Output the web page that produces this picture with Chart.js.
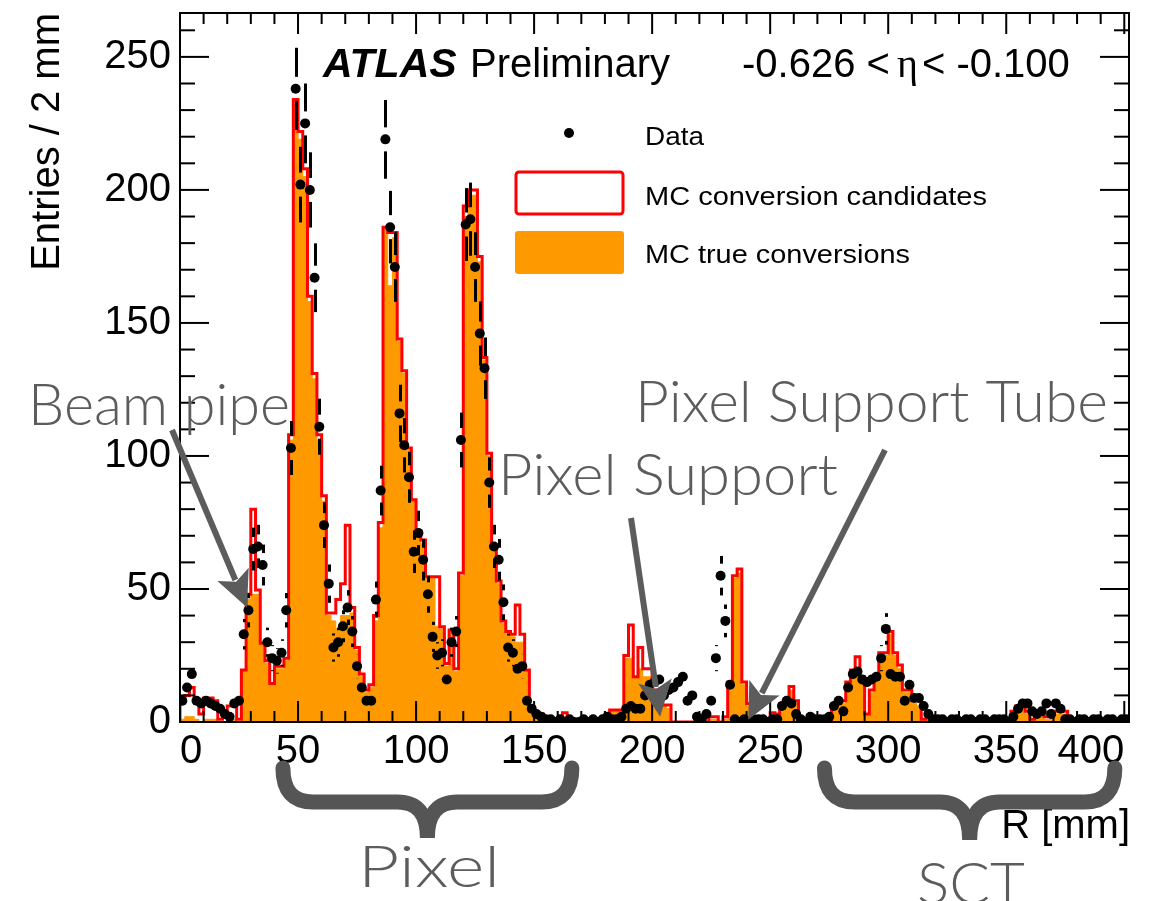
<!DOCTYPE html>
<html>
<head>
<meta charset="utf-8">
<script src="https://cdn.jsdelivr.net/npm/chart.js@4.4.1/dist/chart.umd.min.js"></script>
<style>
  html, body { margin: 0; padding: 0; background: #fff; }
</style>
</head>
<body>
<canvas id="graph" width="1171" height="901"></canvas>
<script>
'use strict';

// 2 mm bins from R = 0 to 402 mm
let binWidth = 2;
let rMax = 402;
let yMax = 266.5;
let xTickValues = [0, 50, 100, 150, 200, 250, 300, 350, 400];
let yTickValues = [0, 50, 100, 150, 200, 250];

// MC conversion candidates (red outline), one value per bin
let candidates = [
  9, 10, 13, 8, 3, 9, 9, 8, 1, 4,
  6, 6, 1, 19.5, 48, 80, 49.6, 29.6, 23, 14.5,
  21, 21, 24, 108, 234, 222, 208, 160, 131, 108,
  85, 41, 41, 46, 52, 74, 43, 28, 18, 12,
  14, 40, 75, 186, 184, 184, 144, 132, 103, 83.5,
  72, 68.4, 54.6, 54.6, 54.6, 35.8, 22, 34.6, 20, 56,
  194, 200, 200, 175, 137, 101, 66, 53, 38, 34,
  33, 44, 33, 19.5, 5.7, 3.6, 3, 0, 0, 0,
  0, 3.5, 0, 0, 0, 0, 0, 0, 0, 0,
  0, 4.5, 4.5, 4.5, 25, 36.5, 17, 28, 20, 20,
  12, 12, 6.4, 6.4, 0, 0, 0, 0, 0, 0,
  0, 0, 2, 2, 0, 2, 15, 55, 57.5, 15,
  7, 0, 0, 0, 0, 3.5, 3, 7, 7, 13.3,
  8, 0, 0, 0, 0, 0, 0, 0, 5.8, 8,
  8, 15, 19.5, 24.5, 17, 3, 12, 17, 26, 26,
  34, 26, 21.4, 12, 12, 8, 8, 1, 3.5, 0,
  0, 0, 0, 0, 0, 0, 0, 0, 0, 0,
  0, 0, 0, 0, 0, 0, 4, 6, 6, 4,
  1, 3, 3, 2, 2, 4, 4, 4, 0, 0,
  0, 0, 0, 0, 0, 0, 0, 0, 0, 0,
  0
];

// MC true conversions (orange fill)
let trueConversions = [
  1, 2, 2, 1, 0, 1, 1, 1, 0, 0,
  1, 1, 0, 19, 46, 48, 48, 29, 22, 14,
  20, 20, 23, 106, 232, 219, 205, 158, 129, 106,
  83, 40, 38, 35, 40, 40, 41, 27, 17, 11,
  13, 38, 73, 185, 164, 182, 143, 131, 102, 83,
  71, 67, 54, 54, 36, 35, 21, 34, 19, 55,
  190, 198, 198, 173, 136, 100, 65, 52, 37, 33,
  32, 30, 30, 19, 5, 3, 2, 0, 0, 0,
  0, 2, 0, 0, 0, 0, 0, 0, 0, 0,
  0, 4, 4, 4, 24, 24, 17, 20, 17, 17,
  11, 10, 6, 5, 0, 0, 0, 0, 0, 0,
  0, 0, 1, 1, 0, 1, 14, 54, 56, 14,
  6, 0, 0, 0, 0, 2, 2, 6, 6, 12,
  7, 0, 0, 0, 0, 0, 0, 0, 5, 7,
  7, 14, 18, 18, 16, 3, 11, 16, 25, 25,
  33, 25, 20, 11, 11, 7, 6, 1, 2, 0,
  0, 0, 0, 0, 0, 0, 0, 0, 0, 0,
  0, 0, 0, 0, 0, 0, 3, 5, 5, 3,
  1, 2, 2, 1, 1, 3, 3, 3, 0, 0,
  0, 0, 0, 0, 0, 0, 0, 0, 0, 0,
  0
];

// data entries per bin
let dataCounts = [
  8, 13, 18, 8, 7, 8, 7, 6, 5, 3,
  2, 7, 8, 33, 42, 65, 66, 59, 30, 24,
  23, 26, 42, 103, 238, 202, 225, 200, 167, 111,
  74, 52, 28, 30, 36, 43, 34, 21, 13, 8,
  8, 46, 87, 219, 186, 171, 116, 104, 92, 64,
  71, 61, 48, 32, 25, 26, 16, 30, 34, 106,
  187, 189, 171, 146, 133, 90, 66, 61, 45, 28,
  26, 20, 21, 8, 5, 3, 2, 1, 1, 0,
  1, 0, 1, 0, 0, 1, 0, 1, 0, 1,
  2, 1, 1, 2, 5, 6, 5, 5, 10, 14,
  15, 16, 10, 12, 13, 15, 17, 8, 10, 2,
  1, 3, 8, 24, 55, 38, 14, 1, 0, 1,
  0, 1, 1, 1, 0, 1, 1, 6, 8, 7,
  3, 1, 0, 2, 1, 1, 1, 2, 6, 8,
  4, 13, 18, 19, 16, 15, 16, 17, 24, 35,
  18, 17, 17, 8, 14, 9, 9, 6, 3, 1,
  1, 1, 0, 1, 1, 0, 1, 1, 0, 1,
  1, 0, 1, 1, 1, 0, 2, 5, 7, 7,
  4, 3, 4, 7, 3, 7, 5, 1, 1, 0,
  1, 1, 0, 1, 1, 0, 1, 1, 0, 1,
  1
];

let legendLabels = ['Data', 'MC conversion candidates', 'MC true conversions'];

let axisFont = '"Liberation Sans", Arial, sans-serif';
let noteFont = 'Lato, "Open Sans", sans-serif';
let noteColor = '#5c5c5c';

// histogram outline as left-edge points, closed down to zero at both ends
function histPoints(values) {
  let pts = [{ x: 0, y: 0 }];
  for (let i = 0; i < values.length; i++) {
    pts.push({ x: i * binWidth, y: values[i] });
  }
  pts.push({ x: values.length * binWidth, y: values[values.length - 1] });
  pts.push({ x: values.length * binWidth, y: 0 });
  return pts;
}

let dataPoints = [];
for (let i = 0; i < dataCounts.length; i++) {
  dataPoints.push({ x: i * binWidth + binWidth / 2, y: dataCounts[i] });
}

function line(ctx, x0, y0, x1, y1) {
  ctx.beginPath();
  ctx.moveTo(x0, y0);
  ctx.lineTo(x1, y1);
  ctx.stroke();
}

function arrow(ctx, x0, y0, x1, y1) {
  let ang = Math.atan2(y1 - y0, x1 - x0);
  let headLen = 36;
  let headHalf = 17;
  let bx = x1 - headLen * Math.cos(ang);
  let by = y1 - headLen * Math.sin(ang);
  ctx.lineWidth = 6;
  line(ctx, x0, y0, bx + 6 * Math.cos(ang), by + 6 * Math.sin(ang));
  ctx.beginPath();
  ctx.moveTo(x1, y1);
  ctx.lineTo(bx - headHalf * Math.sin(ang), by + headHalf * Math.cos(ang));
  ctx.lineTo(bx + 8 * Math.cos(ang), by + 8 * Math.sin(ang));
  ctx.lineTo(bx + headHalf * Math.sin(ang), by - headHalf * Math.cos(ang));
  ctx.closePath();
  ctx.fill();
}

function brace(ctx, x0, x1, yTop, yMid, yTip) {
  let xm = (x0 + x1) / 2;
  let r = 30;
  ctx.beginPath();
  ctx.moveTo(x0, yTop);
  ctx.quadraticCurveTo(x0, yMid, x0 + r, yMid);
  ctx.lineTo(xm - r, yMid);
  ctx.quadraticCurveTo(xm, yMid, xm, yTip);
  ctx.quadraticCurveTo(xm, yMid, xm + r, yMid);
  ctx.lineTo(x1 - r, yMid);
  ctx.quadraticCurveTo(x1, yMid, x1, yTop);
  ctx.stroke();
}

// draws text squeezed or stretched to a given width
function fitText(ctx, text, left, baseline, width) {
  let w = ctx.measureText(text).width;
  ctx.save();
  ctx.translate(left, baseline);
  ctx.scale(width / w, 1);
  ctx.fillText(text, 0, 0);
  ctx.restore();
}

let errorBars = {
  id: 'errorBars',
  afterDatasetsDraw(chart) {
    let ctx = chart.ctx;
    let xs = chart.scales.x;
    let ys = chart.scales.y;
    let gap = 12;
    ctx.save();
    ctx.strokeStyle = '#000';
    ctx.lineWidth = 3;
    for (let p of dataPoints) {
      if (p.y <= 0) continue;
      let err = Math.sqrt(p.y);
      let px = Math.round(xs.getPixelForValue(p.x)) + 0.5;
      let py = ys.getPixelForValue(p.y);
      let hi = ys.getPixelForValue(Math.min(p.y + err, yMax));
      let lo = ys.getPixelForValue(Math.max(p.y - err, 0));
      if (py - hi > gap) line(ctx, px, hi, px, py - gap);
      if (lo - py > gap) line(ctx, px, py + gap, px, lo);
    }
    ctx.restore();
  }
};

let frameAndNotes = {
  id: 'frameAndNotes',
  afterDraw(chart) {
    let ctx = chart.ctx;
    let xs = chart.scales.x;
    let ys = chart.scales.y;
    let { left, right, top, bottom } = chart.chartArea;
    ctx.save();

    // frame and inward ticks
    ctx.strokeStyle = '#000';
    ctx.lineWidth = 2;
    ctx.strokeRect(left, top, right - left, bottom - top);
    for (let r = 0; r <= rMax; r += 10) {
      let px = xs.getPixelForValue(r);
      let len = r % 50 === 0 ? 21 : 11;
      line(ctx, px, bottom, px, bottom - len);
      line(ctx, px, top, px, top + len);
    }
    for (let v = 0; v <= yMax; v += 10) {
      let py = ys.getPixelForValue(v);
      let len = v % 50 === 0 ? 29 : 15;
      line(ctx, left, py, left + len, py);
      line(ctx, right, py, right - len, py);
    }

    // axis titles
    ctx.fillStyle = '#000';
    ctx.font = '40px ' + axisFont;
    ctx.textAlign = 'right';
    ctx.textBaseline = 'alphabetic';
    ctx.fillText('R [mm]', 1130, 838);
    ctx.save();
    ctx.translate(59, 13);
    ctx.rotate(-Math.PI / 2);
    ctx.fillText('Entries / 2 mm', 0, 0);
    ctx.restore();

    // experiment label and eta range
    ctx.textAlign = 'left';
    ctx.font = 'italic bold 41px ' + axisFont;
    ctx.fillText('ATLAS', 323, 77);
    ctx.font = '40px ' + axisFont;
    ctx.fillText('Preliminary', 470, 77);
    let ex = 742;
    ctx.fillText('-0.626 <', ex, 77);
    ex += ctx.measureText('-0.626 < ').width - 4;
    ctx.font = '40px "Liberation Serif", serif';
    ctx.fillText('\u03b7', ex, 77);
    ex += ctx.measureText('\u03b7').width + 4;
    ctx.font = '40px ' + axisFont;
    ctx.fillText('< -0.100', ex, 77);

    // legend
    ctx.beginPath();
    ctx.arc(569, 133, 5, 0, Math.PI * 2);
    ctx.fill();
    ctx.strokeStyle = '#ff0000';
    ctx.lineWidth = 3;
    ctx.beginPath();
    ctx.roundRect(516, 172, 107, 42, 3);
    ctx.stroke();
    ctx.fillStyle = '#ff9900';
    ctx.beginPath();
    ctx.roundRect(515, 231, 109, 43, 3);
    ctx.fill();
    ctx.fillStyle = '#000';
    ctx.font = '26px ' + axisFont;
    fitText(ctx, legendLabels[0], 645, 145, 59);
    fitText(ctx, legendLabels[1], 645, 205, 342);
    fitText(ctx, legendLabels[2], 645, 263, 265);

    // detector annotations
    ctx.fillStyle = noteColor;
    ctx.strokeStyle = noteColor;
    ctx.font = '300 58px ' + noteFont;
    fitText(ctx, 'Beam pipe', 28, 425, 262);
    fitText(ctx, 'Pixel Support Tube', 635, 422, 473);
    fitText(ctx, 'Pixel Support', 498, 495, 340);
    fitText(ctx, 'Pixel', 358, 887, 142);
    fitText(ctx, 'SCT', 917, 904, 108);

    arrow(ctx, 172, 430, xs.getPixelForValue(28.4), ys.getPixelForValue(43));
    arrow(ctx, 631, 518, xs.getPixelForValue(203.4), ys.getPixelForValue(2));
    arrow(ctx, 885, 450, xs.getPixelForValue(240.7), ys.getPixelForValue(0.8));

    ctx.strokeStyle = '#555';
    ctx.lineWidth = 15;
    ctx.lineCap = 'round';
    brace(ctx, xs.getPixelForValue(43.6), xs.getPixelForValue(166), 768, 802, 838);
    brace(ctx, xs.getPixelForValue(273), xs.getPixelForValue(396), 768, 802, 840);

    ctx.restore();
  }
};

let ctx = document.getElementById('graph').getContext('2d');
let graph = new Chart(ctx, { //eslint-disable-line
  type: 'line',
  data: {
    datasets: [
      {
        label: legendLabels[0],
        data: dataPoints,
        showLine: false,
        pointRadius: 5,
        pointBackgroundColor: '#000',
        pointBorderWidth: 0,
        order: 0
      },
      {
        label: legendLabels[1],
        data: histPoints(candidates),
        stepped: true,
        borderColor: '#ff0000',
        borderWidth: 3,
        pointRadius: 0,
        fill: false,
        order: 1
      },
      {
        label: legendLabels[2],
        data: histPoints(trueConversions),
        stepped: true,
        borderColor: '#ff9900',
        borderWidth: 1,
        backgroundColor: '#ff9900',
        pointRadius: 0,
        fill: 'origin',
        order: 2
      }
    ]
  },
  options: {
    responsive: false,
    animation: false,
    devicePixelRatio: 1,
    layout: { padding: { left: 0, right: 42, top: 13, bottom: 0 } },
    plugins: {
      legend: { display: false },
      tooltip: { enabled: false }
    },
    scales: {
      x: {
        type: 'linear',
        min: 0,
        max: rMax,
        grid: { display: false, drawTicks: false },
        border: { display: false },
        ticks: {
          maxRotation: 0,
          autoSkip: false,
          align: 'inner',
          color: '#000',
          padding: 6,
          font: { family: 'Liberation Sans', size: 40 }
        },
        afterBuildTicks(scale) {
          scale.ticks = xTickValues.map(v => ({ value: v }));
        },
        afterFit(scale) {
          scale.height = 179;
          scale.paddingLeft = 0;
          scale.paddingRight = 0;
        }
      },
      y: {
        min: 0,
        max: yMax,
        grid: { display: false, drawTicks: false },
        border: { display: false },
        ticks: {
          color: '#000',
          padding: 9,
          font: { family: 'Liberation Sans', size: 40 }
        },
        afterBuildTicks(scale) {
          scale.ticks = yTickValues.map(v => ({ value: v }));
        },
        afterFit(scale) {
          scale.width = 180;
          scale.paddingTop = 0;
          scale.paddingBottom = 0;
        }
      }
    }
  },
  plugins: [errorBars, frameAndNotes]
});
</script>
</body>
</html>
